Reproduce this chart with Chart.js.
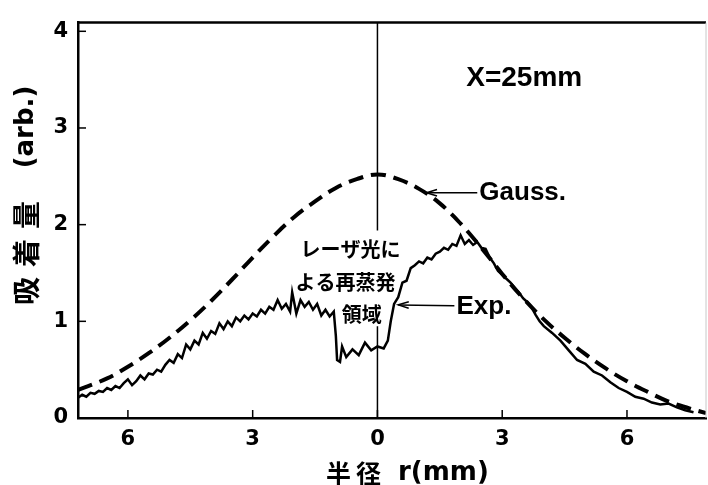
<!DOCTYPE html>
<html>
<head>
<meta charset="utf-8">
<script src="https://cdn.jsdelivr.net/npm/chart.js@4"></script>
<style>
  body { margin: 0; background: #fff; }
  #wrap { width: 708px; height: 485px; }
</style>
</head>
<body>
<div id="wrap"><canvas id="chart"></canvas></div>
<script>
// 半径 r (mm), negative = left side of the axis
let xTicks = [-6, -3, 0, 3, 6];
let yTicks = [0, 1, 2, 3, 4];
let xMin = -7.2, xMax = 7.9, yMax = 4.09;

// Gauss. (dashed)
let gaussR = [-7.2, -6.5, -6.0, -5.5, -5.0, -4.5, -4.0, -3.5, -3.0, -2.5, -2.0, -1.5, -1.0, -0.5, 0,
  0.5, 1.0, 1.5, 2.0, 2.5, 3.0, 3.5, 4.0, 4.5, 5.0, 5.5, 6.0, 6.5, 7.0, 7.5, 7.9];
let gaussVal = [0.29, 0.41, 0.53, 0.67, 0.83, 1.01, 1.21, 1.43, 1.66, 1.88, 2.08, 2.24, 2.38, 2.47, 2.52,
  2.47, 2.37, 2.22, 2.01, 1.76, 1.49, 1.24, 1.02, 0.83, 0.66, 0.51, 0.38, 0.27, 0.17, 0.10, 0.05];

// Exp. (solid, measured)
let expR = [-7.2, -7.1, -7.0, -6.9, -6.8, -6.7, -6.6, -6.5, -6.4, -6.3, -6.2, -6.1, -6.0, -5.9, -5.8, -5.7,
  -5.6, -5.5, -5.4, -5.3, -5.2, -5.1, -5.0, -4.9, -4.8, -4.7, -4.6, -4.5, -4.4, -4.3, -4.2, -4.1, -4.0,
  -3.9, -3.8, -3.7, -3.6, -3.5, -3.4, -3.3, -3.2, -3.1, -3.0, -2.9, -2.8, -2.7, -2.6, -2.5, -2.4, -2.3,
  -2.2, -2.1, -2.05, -1.95, -1.85, -1.75, -1.65, -1.55, -1.45, -1.35, -1.25, -1.15, -1.05, -1.0, -0.97,
  -0.9, -0.85, -0.75, -0.6, -0.45, -0.3, -0.15, 0.0, 0.15, 0.25, 0.32, 0.4, 0.5, 0.6, 0.7, 0.8, 0.9,
  1.0, 1.1, 1.2, 1.3, 1.4, 1.5, 1.6, 1.7, 1.8, 1.9, 2.0, 2.1, 2.2, 2.3, 2.4, 2.5, 2.6, 2.7, 2.8, 2.9,
  3.0, 3.1, 3.2, 3.3, 3.4, 3.5, 3.6, 3.7, 3.8, 3.9, 4.0, 4.2, 4.4, 4.6, 4.8, 5.0, 5.2, 5.4, 5.6, 5.8,
  6.0, 6.2, 6.4, 6.6, 6.8, 7.0, 7.2, 7.4, 7.6];
let expVal = [0.21, 0.24, 0.22, 0.26, 0.25, 0.28, 0.27, 0.31, 0.29, 0.33, 0.31, 0.36, 0.40, 0.34, 0.38, 0.44,
  0.40, 0.46, 0.45, 0.50, 0.48, 0.55, 0.60, 0.57, 0.66, 0.62, 0.76, 0.71, 0.80, 0.76, 0.88, 0.82, 0.90,
  0.87, 0.98, 0.92, 1.00, 0.95, 1.04, 1.00, 1.06, 1.02, 1.08, 1.05, 1.12, 1.08, 1.15, 1.12, 1.22, 1.13,
  1.18, 1.10, 1.30, 1.08, 1.22, 1.15, 1.20, 1.12, 1.18, 1.06, 1.12, 1.05, 1.10, 0.85, 0.60,
  0.58, 0.74, 0.63, 0.71, 0.65, 0.78, 0.70, 0.74, 0.72, 0.80, 1.00, 1.18, 1.25, 1.40, 1.42, 1.55, 1.58,
  1.62, 1.60, 1.66, 1.64, 1.70, 1.72, 1.76, 1.74, 1.80, 1.78, 1.89, 1.80, 1.84, 1.79, 1.82, 1.76, 1.75, 1.66, 1.60, 1.52,
  1.48, 1.44, 1.40, 1.35, 1.30, 1.24, 1.20, 1.15, 1.07, 1.00, 0.95, 0.88, 0.80, 0.70, 0.60, 0.56, 0.48, 0.44, 0.37, 0.31,
  0.27, 0.22, 0.20, 0.16, 0.14, 0.15, 0.11, 0.08, 0.06];

// r = 0 guide line, broken where the note sits
let zeroY = [4.09, 1.94, null, 0.95, 0];

let noteLines = ['レーザ光に', 'よる再蒸発', '領域'];
let noteR = [-0.65, -0.77, -0.38];
let noteY = [1.74, 1.40, 1.07];

function pts(xs, ys) {
    return xs.map((v, i) => ({ x: v, y: ys[i] }));
}

function arrow(ctx, x1, y1, x2, y2) {
    ctx.beginPath();
    ctx.moveTo(x1, y1);
    ctx.lineTo(x2, y2);
    ctx.stroke();
    let a = Math.atan2(y2 - y1, x2 - x1);
    ctx.beginPath();
    ctx.moveTo(x2 - 11 * Math.cos(a - 0.3), y2 - 11 * Math.sin(a - 0.3));
    ctx.lineTo(x2, y2);
    ctx.lineTo(x2 - 11 * Math.cos(a + 0.3), y2 - 11 * Math.sin(a + 0.3));
    ctx.stroke();
}

const deco = {
    id: 'deco',
    afterDraw(chart) {
        const ctx = chart.ctx;
        const a = chart.chartArea;
        const x = chart.scales.x, y = chart.scales.y;
        ctx.save();

        // frame
        ctx.strokeStyle = '#000';
        ctx.lineWidth = 2.5;
        ctx.beginPath();
        ctx.moveTo(a.left - 1, a.top);
        ctx.lineTo(a.right, a.top);
        ctx.stroke();
        ctx.strokeStyle = '#c8c8c8';
        ctx.lineWidth = 1;
        ctx.beginPath();
        ctx.moveTo(a.right, a.top);
        ctx.lineTo(a.right, a.bottom);
        ctx.stroke();

        // inward ticks
        ctx.strokeStyle = '#000';
        ctx.lineWidth = 1.5;
        xTicks.forEach(v => {
            let px = x.getPixelForValue(v);
            ctx.beginPath(); ctx.moveTo(px, a.bottom); ctx.lineTo(px, a.bottom - 8); ctx.stroke();
        });
        yTicks.forEach(v => {
            let py = y.getPixelForValue(v);
            ctx.beginPath(); ctx.moveTo(a.left, py); ctx.lineTo(a.left + 8, py); ctx.stroke();
        });

        ctx.fillStyle = '#000';
        ctx.textBaseline = 'middle';

        // y title, read bottom to top
        ctx.save();
        ctx.translate(26, 0);
        ctx.rotate(-Math.PI / 2);
        ctx.textAlign = 'center';
        ctx.font = 'bold 28px "Noto Sans CJK JP"';
        ctx.letterSpacing = '10px';
        ctx.fillText('吸着量', -253 + 5, 0);
        ctx.letterSpacing = '0px';
        ctx.font = 'bold 26px "DejaVu Sans"';
        ctx.fillText('(arb.)', -127, 0);
        ctx.restore();

        // x title
        ctx.save();
        ctx.textAlign = 'left';
        ctx.font = 'bold 25px "Noto Sans CJK JP"';
        ctx.letterSpacing = '5px';
        ctx.fillText('半径', 326, a.bottom + 55);
        ctx.letterSpacing = '0px';
        ctx.font = 'bold 26px "DejaVu Sans"';
        ctx.fillText('r(mm)', 398, a.bottom + 55);
        ctx.restore();

        // annotations
        ctx.textAlign = 'center';
        ctx.font = 'bold 28px "Liberation Sans"';
        ctx.fillText('X=25mm', x.getPixelForValue(3.53), y.getPixelForValue(3.51));

        ctx.textAlign = 'left';
        ctx.font = 'bold 26px "Liberation Sans"';
        ctx.fillText('Gauss.', x.getPixelForValue(2.45), y.getPixelForValue(2.33));
        ctx.fillText('Exp.', x.getPixelForValue(1.9), y.getPixelForValue(1.15));

        ctx.lineWidth = 1.5;
        arrow(ctx, x.getPixelForValue(2.4), y.getPixelForValue(2.33), x.getPixelForValue(1.18), y.getPixelForValue(2.33));
        arrow(ctx, x.getPixelForValue(1.85), y.getPixelForValue(1.16), x.getPixelForValue(0.5), y.getPixelForValue(1.17));

        ctx.textAlign = 'center';
        ctx.font = 'bold 20px "Noto Sans CJK JP"';
        noteLines.forEach((t, i) => {
            ctx.fillText(t, x.getPixelForValue(noteR[i]), y.getPixelForValue(noteY[i]));
        });

        ctx.restore();
    }
};

let chart = new Chart(document.querySelector('#chart').getContext('2d'), {
    type: 'line',
    data: {
        datasets: [{
            label: 'Gauss.',
            data: pts(gaussR, gaussVal),
            borderColor: '#000',
            borderWidth: 4,
            borderDash: [15, 8],
            pointRadius: 0,
            tension: 0.4,
            fill: false
        }, {
            label: 'Exp.',
            data: pts(expR, expVal),
            borderColor: '#000',
            borderWidth: 2.5,
            pointRadius: 0,
            tension: 0,
            fill: false
        }, {
            label: 'r=0',
            data: pts([0, 0, 0, 0, 0], zeroY),
            borderColor: '#000',
            borderWidth: 1.5,
            pointRadius: 0,
            spanGaps: false,
            fill: false
        }]
    },
    options: {
        responsive: true,
        maintainAspectRatio: false,
        animation: false,
        events: [],
        layout: { padding: { top: 7, right: 2, left: 0, bottom: 0 } },
        plugins: {
            legend: { display: false },
            tooltip: { enabled: false }
        },
        scales: {
            x: {
                type: 'linear',
                min: xMin,
                max: xMax,
                afterBuildTicks: s => { s.ticks = xTicks.map(v => ({ value: v })); },
                afterFit: s => { s.height = 67; },
                grid: { display: false, drawTicks: false },
                border: { color: '#000', width: 2.5 },
                ticks: {
                    color: '#000',
                    padding: 9,
                    maxRotation: 0,
                    font: { family: 'DejaVu Sans', weight: 'bold', size: 21 },
                    callback: v => String(Math.abs(v))
                }
            },
            y: {
                type: 'linear',
                min: 0,
                max: yMax,
                afterBuildTicks: s => { s.ticks = yTicks.map(v => ({ value: v })); },
                afterFit: s => { s.width = 78; },
                grid: { display: false, drawTicks: false },
                border: { color: '#000', width: 2.5 },
                ticks: {
                    color: '#000',
                    padding: 10,
                    font: { family: 'DejaVu Sans', weight: 'bold', size: 21 }
                }
            }
        }
    },
    plugins: [deco]
});
</script>
</body>
</html>
